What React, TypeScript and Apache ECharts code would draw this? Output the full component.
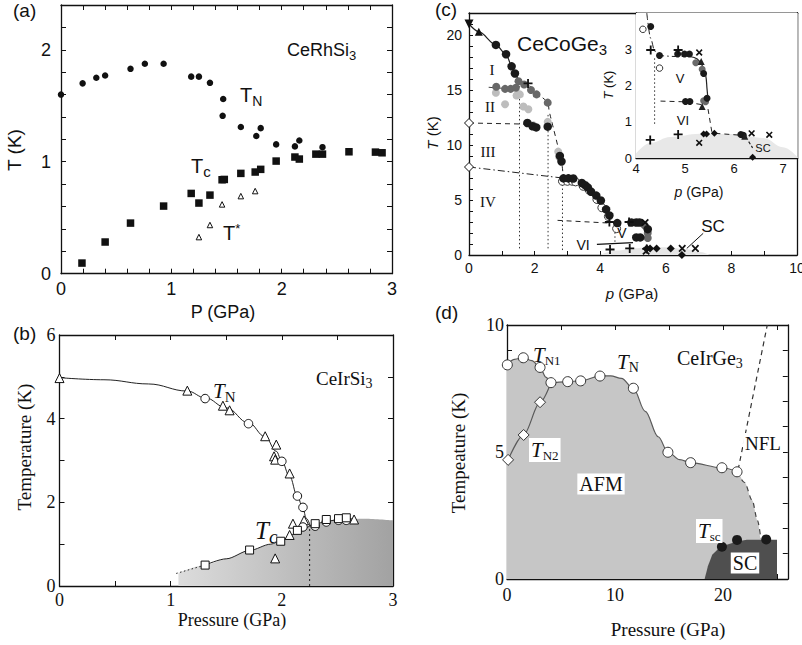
import React, { useEffect, useRef } from 'react';
import * as echarts from 'echarts';

const SANS = '"Liberation Sans", Arial, Helvetica, sans-serif';
const SERIF = '"Liberation Serif", "Times New Roman", serif';

// ---------- Panel (a) CeRhSi3 ----------
const aTN = [[0, 1.60], [0.196, 1.70], [0.32, 1.75], [0.40, 1.77], [0.63, 1.83], [0.76, 1.875], [0.93, 1.875], [1.18, 1.76], [1.25, 1.76], [1.35, 1.705], [1.47, 1.56], [1.465, 1.41], [1.63, 1.31], [1.77, 1.23], [1.81, 1.30], [1.95, 1.155], [2.12, 1.137], [2.16, 1.19], [2.37, 1.13]];
const aTc = [[0.19, 0.095], [0.40, 0.283], [0.63, 0.452], [0.93, 0.604], [1.18, 0.717], [1.25, 0.631], [1.35, 0.702], [1.46, 0.839], [1.48, 0.842], [1.63, 0.896], [1.76, 0.908], [1.81, 0.932], [1.95, 1.006], [2.12, 1.042], [2.16, 1.024], [2.31, 1.068], [2.37, 1.068], [2.61, 1.089], [2.85, 1.086], [2.91, 1.080]];
const aTstar = [[1.25, 0.327], [1.35, 0.435], [1.46, 0.619], [1.63, 0.693], [1.76, 0.738]];

// ---------- Panel (b) CeIrSi3 ----------
const bTNline = [[0, 4.98], [0.4, 4.93], [0.8, 4.83], [1.15, 4.66], [1.31, 4.5], [1.5, 4.26], [1.7, 3.9], [1.85, 3.57], [1.95, 3.22], [2.0, 2.98], [2.07, 2.62], [2.14, 2.15], [2.19, 1.85], [2.22, 1.62], [2.25, 1.48]];
const bTcline = [[1.31, 0.5], [1.5, 0.65], [1.71, 0.85], [1.9, 1.0], [2.0, 1.09], [2.1, 1.23], [2.2, 1.38], [2.3, 1.48], [2.4, 1.55], [2.55, 1.6], [2.65, 1.61]];
const bTcDotted = [[1.05, 0.3], [1.31, 0.5]];
const bSCedge = [[1.07, 0.31], [1.31, 0.5], [1.5, 0.65], [1.71, 0.85], [1.9, 1.0], [2.0, 1.09], [2.1, 1.23], [2.2, 1.38], [2.3, 1.48], [2.4, 1.55], [2.55, 1.6], [2.75, 1.61], [3.0, 1.57]];
const bQCP = [[2.25, 0], [2.25, 1.48]];
const bTri = [[0, 4.97], [1.15, 4.67], [1.47, 4.31], [1.53, 4.20], [1.85, 3.58], [1.95, 3.38], [1.93, 3.10], [1.94, 3.02], [2.07, 2.69], [2.07, 1.22], [2.10, 1.49], [2.20, 1.57], [1.94, 0.66], [2.65, 1.59]];
const bCirc = [[1.31, 4.48], [1.70, 3.88], [2.0, 2.98], [2.14, 2.15], [2.19, 1.88], [2.19, 1.41], [2.30, 1.43], [2.40, 1.53], [2.51, 1.57], [2.58, 1.57]];
const bSq = [[1.31, 0.50], [1.71, 0.86], [1.99, 1.07], [2.14, 1.33], [2.30, 1.49], [2.40, 1.59], [2.51, 1.61], [2.58, 1.63]];

// ---------- Panel (c) CeCoGe3 main ----------
const cBlack = [[0.82, 19.1], [1.13, 18.25], [1.30, 17.15], [1.40, 16.5], [1.78, 12.0], [1.94, 11.7], [2.05, 11.6], [2.40, 11.67], [2.77, 9.0], [2.82, 8.5], [2.88, 6.97], [3.03, 6.97], [3.18, 6.95], [3.44, 6.55], [3.54, 6.35], [3.62, 6.15], [3.72, 5.75], [3.88, 5.4], [4.02, 4.95], [4.18, 4.15], [4.28, 3.6], [4.52, 2.9], [4.95, 2.95], [5.1, 2.95], [5.2, 2.95], [5.1, 1.6], [5.22, 1.6], [5.45, 2.35]];
const cDark = [[0.83, 15.3], [1.10, 15.1], [1.27, 15.1], [1.43, 15.2], [1.51, 15.8], [1.68, 15.5], [1.89, 15.0], [2.06, 14.6], [2.40, 13.85], [5.35, 2.7], [5.45, 2.0], [5.45, 1.55]];
const cLight = [[0.82, 14.75], [1.10, 13.7], [1.45, 14.5], [1.55, 14.6], [1.66, 13.5], [1.81, 13.25], [1.96, 11.8], [2.40, 12.1], [2.72, 9.4], [2.75, 8.9]];
const cOpen = [[2.85, 6.7], [3.0, 6.7], [3.15, 6.7], [3.25, 6.65], [3.48, 6.25], [3.66, 5.9], [3.9, 5.05], [4.05, 4.3], [4.25, 3.5], [4.5, 2.4]];
const cDiam = [[5.42, 0.6], [5.52, 0.6], [5.72, 0.6], [6.15, 0.6], [6.49, 0]];
const cDiamOpen = [[0, 12], [0, 8]];
const cPlus = [[1.8, 15.6], [4.28, 3.0], [4.88, 3.0], [4.3, 0.5], [4.9, 0.6], [5.42, 0.55]];
const cCross = [[5.37, 2.95], [6.5, 0.6], [6.9, 0.6], [5.4, 0.35]];
const cTriUp = [[0.3, 20.3]];
const cTriDown = [[0, 21]];
const cSolid1 = [[0, 21], [0.3, 20.3], [0.82, 19.1], [1.13, 18.25], [1.3, 17.2], [1.42, 16.4], [1.55, 15.7], [1.8, 15.55]];
const cSolid2 = [[0.6, 15.25], [1.1, 15.15], [1.45, 15.25], [1.55, 15.3]];
const cDash1 = [[1.85, 15.4], [2.06, 14.7], [2.38, 13.9], [2.45, 13.0], [2.55, 11.8], [2.7, 10.0], [2.82, 8.5], [2.87, 7.2]];
const cDash2 = [[0, 12], [1.75, 11.9]];
const cDashDot = [[0, 8], [2.85, 7.0]];
const cDot1 = [[1.54, 0.6], [1.54, 14.5]];
const cDot2 = [[2.41, 0.6], [2.41, 12.9]];
const cDot3 = [[2.85, 0.45], [2.85, 6.8]];
const cDash3 = [[2.7, 3.15], [4.3, 2.9]];
const cDot4 = [[4.45, 1.2], [4.45, 2.8]];
const cVIline = [[3.9, 0.97], [5.0, 1.12]];
const cSCline = [[7.14, 1.97], [6.64, 0.6]];
const cDome = [[4.0, 0], [4.5, 0.4], [5.0, 0.6], [5.5, 0.7], [6.0, 0.7], [6.6, 0.55], [7.0, 0.3], [7.35, 0]];

// ---------- Panel (c) inset ----------
const iBlack = [[4.30, 3.63], [4.48, 2.83], [4.85, 2.87], [4.99, 2.87], [5.09, 2.87], [5.38, 2.33], [5.45, 1.65], [5.01, 1.56], [5.10, 1.56], [6.14, 0.65], [6.19, 0.63]];
const iGrey = [[5.22, 2.63], [5.35, 2.45], [5.38, 1.58], [5.42, 1.55]];
const iOpen = [[4.14, 3.55], [4.48, 2.48]];
const iPlus = [[4.30, 2.98], [4.86, 2.98], [4.29, 0.50], [4.86, 0.65]];
const iCross = [[5.29, 2.91], [5.29, 0.42], [6.36, 0.68], [6.72, 0.64]];
const iTri = [[5.33, 2.66], [5.35, 1.42], [6.22, 0.6]];
const iDiam = [[5.38, 0.66], [5.44, 0.66], [5.6, 0.68], [6.38, 0.02]];
const iDashDot = [[4.22, 4.0], [4.3, 3.3], [4.38, 2.95], [4.5, 2.82], [4.8, 2.8], [5.1, 2.8]];
const iSolid = [[5.1, 2.8], [5.25, 2.73], [5.35, 2.55], [5.42, 2.3], [5.45, 1.9], [5.47, 1.6]];
const iDot = [[4.38, 2.75], [4.38, 0.9]];
const iDash1 = [[4.5, 1.57], [5.0, 1.55], [5.35, 1.47]];
const iDash2 = [[5.47, 1.35], [5.55, 0.7]];
const iDash3 = [[5.62, 0.68], [6.22, 0.62]];
const iDash4 = [[6.3, 0.45], [6.38, 0.28]];
const iDome = [[4.0, 0.12], [4.3, 0.42], [4.7, 0.58], [5.3, 0.67], [6.0, 0.66], [6.6, 0.55], [7.0, 0.3], [7.3, 0.02]];

// ---------- Panel (d) CeIrGe3 ----------
const dTNpts = [[0.03, 8.43], [1.51, 8.71], [3.06, 8.33], [4.07, 7.73], [5.62, 7.77], [6.82, 7.80], [8.61, 7.99], [11.7, 7.51], [14.9, 4.99], [17.0, 4.58], [19.9, 4.38], [21.3, 4.22]];
const dTN2pts = [[0.1, 4.69], [1.54, 5.67], [3.06, 6.96]];
const dTscPts = [[19.9, 1.27], [21.3, 1.54], [24.0, 1.56]];
const dTNline = [[0, 8.43], [0.7, 8.65], [1.5, 8.71], [2.3, 8.6], [3.06, 8.33], [3.6, 7.95], [4.07, 7.73], [5.6, 7.77], [6.8, 7.80], [8.6, 7.99], [9.6, 8.0], [10.6, 7.9], [11.7, 7.5], [12.8, 6.6], [14.0, 5.6], [14.9, 5.0], [16.0, 4.7], [17.0, 4.58], [19.9, 4.38], [21.3, 4.22]];
const dTNdash = [[21.3, 4.22], [22.0, 3.8], [22.7, 3.1], [23.2, 2.3], [23.5, 1.6]];
const dAFM = [...dTNline, [22.0, 3.8], [22.7, 3.1], [23.2, 2.3], [23.5, 1.6], [23.6, 0]];
const dTN2line = [[0.1, 4.69], [1.54, 5.67], [3.06, 6.96], [4.07, 7.73]];
const dSC = [[18.3, 0], [18.6, 0.5], [19.0, 0.95], [19.6, 1.2], [20.2, 1.33], [21.3, 1.48], [22.2, 1.55], [25, 1.55], [25, 0]];
const dNFL = [[21.4, 4.3], [24.1, 10]];

const PLUS = 'path://M-1,-5L1,-5L1,-1L5,-1L5,1L1,1L1,5L-1,5L-1,1L-5,1L-5,-1L-1,-1Z';

function buildOption() {
  const xAxes: any[] = [];
  const yAxes: any[] = [];
  const series: any[] = [];

  const fmt = (major: number, hideAbove: number) => (v: number) => {
    const r = v / major;
    if (v > hideAbove + 1e-9) return '';
    return Math.abs(r - Math.round(r)) < 1e-6 ? String(Math.round(v * 1000) / 1000) : '';
  };
  const axis = (gi: number, c: any, pos: string, showLabel: boolean, tick: boolean) => ({
    type: 'value', gridIndex: gi, min: c.min, max: c.max, interval: c.step, position: pos,
    axisLine: { show: true, onZero: false, lineStyle: { color: '#111', width: 1.3 } },
    axisTick: { show: tick, inside: true, length: c.tick || 5, lineStyle: { color: '#111', width: 1 } },
    splitLine: { show: false },
    axisLabel: {
      show: showLabel, margin: c.margin, color: '#111', fontFamily: c.font, fontSize: c.size,
      formatter: fmt(c.major, c.hideAbove ?? 1e9), hideOverlap: false,
    },
  });
  const mk = (gi: number, xc: any, yc: any, mirror: boolean) => {
    const xi = xAxes.length; const yi = yAxes.length;
    xAxes.push(axis(gi, xc, 'bottom', true, true));
    yAxes.push(axis(gi, yc, 'left', true, true));
    xAxes.push(axis(gi, xc, 'top', false, mirror));
    yAxes.push(axis(gi, yc, 'right', false, mirror));
    return { xi, yi };
  };

  const grids = [
    { left: 61, top: 5, width: 331, height: 268.7 },
    { left: 59.5, top: 335, width: 333.5, height: 251 },
    { left: 469, top: 13, width: 328, height: 242 },
    { left: 636, top: 13, width: 161.7, height: 145, show: true, backgroundColor: '#fff', borderColor: 'transparent', z: 5 },
    { left: 507, top: 325, width: 280.8, height: 254 },
  ].map((g: any) => ({ ...g, containLabel: false, outerBoundsMode: 'none' }));

  const A = mk(0, { min: 0, max: 3, step: 0.2, major: 1, font: SANS, size: 18, margin: 6 }, { min: 0, max: 2.4, step: 0.2, major: 1, font: SANS, size: 18, margin: 10 }, true);
  const B = mk(1, { min: 0, max: 3, step: 0.5, major: 1, font: SERIF, size: 18, margin: 5 }, { min: 0, max: 6, step: 1, major: 2, font: SERIF, size: 18, margin: 4 }, true);
  const C = mk(2, { min: 0, max: 10, step: 1, major: 2, font: SANS, size: 14, margin: 6, tick: 4 }, { min: 0, max: 22, step: 1, major: 5, font: SANS, size: 14, margin: 7, tick: 4 }, false);
  const CI = mk(3, { min: 4, max: 7.3, step: 0.5, major: 1, font: SANS, size: 13, margin: 4, tick: 3 }, { min: 0, max: 4, step: 0.5, major: 1, font: SANS, size: 13, margin: 4, tick: 3, hideAbove: 3.5 }, false);
  const D = mk(4, { min: 0, max: 26, step: 5, major: 10, font: SERIF, size: 18, margin: 7 }, { min: 0, max: 10, step: 1, major: 5, font: SERIF, size: 18, margin: 3 }, true);

  const sc = (ax: any, data: any[], symbol: string, size: number, fill: string, stroke?: string, extra: any = {}) => ({
    type: 'scatter', xAxisIndex: ax.xi, yAxisIndex: ax.yi, data, symbol, symbolSize: size, silent: true, z: 6,
    itemStyle: { color: fill, borderColor: stroke || fill, borderWidth: stroke ? 1 : 0, opacity: 1 }, ...extra,
  });
  const ln = (ax: any, data: any[], color: string, width: number, type: any, smooth: any = false, extra: any = {}) => ({
    type: 'line', xAxisIndex: ax.xi, yAxisIndex: ax.yi, data, symbol: 'none', showSymbol: false, smooth, smoothMonotone: 'x',
    lineStyle: { color, width, type }, silent: true, z: 4, ...extra,
  });
  const area = (ax: any, data: any[], color: any, smooth: any = false, z = 2) => ({
    type: 'line', xAxisIndex: ax.xi, yAxisIndex: ax.yi, data, symbol: 'none', showSymbol: false, smooth, smoothMonotone: 'x',
    lineStyle: { width: 0, opacity: 0 }, areaStyle: { color, opacity: 1 }, silent: true, z,
  });
  const DASH = [5, 4];
  const DOT = [1.5, 2.5];
  const DASHDOT = [7, 3, 1.5, 3];

  // (a)
  series.push(sc(A, aTN, 'circle', 6.5, '#111'));
  series.push(sc(A, aTc, 'rect', 7.5, '#111'));
  series.push(sc(A, aTstar, 'triangle', 5.5, '#fff', '#111'));

  // (b)
  series.push(area(B, bSCedge, new echarts.graphic.LinearGradient(0, 0, 1, 0, [{ offset: 0, color: '#dcdcdc' }, { offset: 1, color: '#a2a2a2' }]), 0.3, 1));
  series.push(ln(B, bTNline, '#222', 1, 'solid', 0.4));
  series.push(ln(B, bTcline, '#222', 1, 'solid', 0.3));
  series.push(ln(B, bTcDotted, '#222', 1, DOT));
  series.push(ln(B, bQCP, '#222', 1, [2, 3]));
  series.push(sc(B, bTri, 'triangle', 9, '#fff', '#111'));
  series.push(sc(B, bCirc, 'circle', 8.5, '#fff', '#111'));
  series.push(sc(B, bSq, 'rect', 8, '#fff', '#111'));

  // (c) main
  series.push(area(C, cDome, '#e6e6e6', 0.4, 1));
  series.push(ln(C, cSolid1, '#222', 1.2, 'solid', 0.3));
  series.push(ln(C, cSolid2, '#444', 1.2, 'solid', 0.3));
  series.push(ln(C, cDash1, '#222', 1, DASH, 0.4, { smoothMonotone: null }));
  series.push(ln(C, cDash2, '#222', 1, DASH));
  series.push(ln(C, cDashDot, '#222', 1, DASHDOT));
  series.push(ln(C, cDot1, '#333', 1, DOT));
  series.push(ln(C, cDot2, '#333', 1, DOT));
  series.push(ln(C, cDot3, '#333', 1, DOT));
  series.push(ln(C, cDash3, '#222', 1, DASH));
  series.push(ln(C, cDot4, '#333', 1, DOT));
  series.push(ln(C, cVIline, '#111', 1.3, 'solid'));
  series.push(ln(C, cSCline, '#111', 1, 'solid'));
  series.push(sc(C, cLight, 'circle', 8, '#bdbdbd'));
  series.push(sc(C, cOpen, 'circle', 8, '#fff', '#333'));
  series.push(sc(C, cDark, 'circle', 8, '#686868'));
  series.push(sc(C, cBlack, 'circle', 8.5, '#1a1a1a'));
  series.push(sc(C, cDiam, 'diamond', 8, '#111'));
  series.push(sc(C, cDiamOpen, 'diamond', 9, '#fff', '#111'));
  series.push(sc(C, cPlus, PLUS, 9, '#111'));
  series.push(sc(C, cCross, PLUS, 9, '#111', undefined, { symbolRotate: 45 }));
  series.push(sc(C, cTriUp, 'triangle', 8, '#111'));
  series.push(sc(C, cTriDown, 'triangle', 9, '#111', undefined, { symbolRotate: 180 }));

  // (c) inset
  series.push(area(CI, iDome, '#e8e8e8', 0.4, 6));
  series.push(ln(CI, iDashDot, '#222', 1, DASHDOT, 0.3, { z: 7 }));
  series.push(ln(CI, iSolid, '#222', 1.2, 'solid', 0.4, { z: 7, smoothMonotone: null }));
  series.push(ln(CI, iDot, '#333', 1, DOT, false, { z: 7 }));
  series.push(ln(CI, iDash1, '#222', 1, DASH, false, { z: 7 }));
  series.push(ln(CI, iDash2, '#222', 1, DASH, false, { z: 7 }));
  series.push(ln(CI, iDash3, '#222', 1, DASH, false, { z: 7 }));
  series.push(ln(CI, iDash4, '#222', 1.2, [3, 2], false, { z: 7 }));
  series.push(sc(CI, iOpen, 'circle', 6.5, '#fff', '#333', { z: 8 }));
  series.push(sc(CI, iGrey, 'circle', 7, '#6a6a6a', undefined, { z: 8 }));
  series.push(sc(CI, iBlack, 'circle', 7, '#1a1a1a', undefined, { z: 8 }));
  series.push(sc(CI, iTri, 'triangle', 7, '#222', undefined, { z: 8 }));
  series.push(sc(CI, iDiam, 'diamond', 7, '#111', undefined, { z: 8 }));
  series.push(sc(CI, iPlus, PLUS, 9, '#111', undefined, { z: 8 }));
  series.push(sc(CI, iCross, PLUS, 8, '#111', undefined, { z: 8, symbolRotate: 45 }));

  // (d)
  series.push(area(D, dAFM, '#c6c6c6', 0.35, 1));
  series.push(area(D, dSC, '#4f4f4f', false, 2));
  series.push(ln(D, dTNline, '#5a5a5a', 1.2, 'solid', 0.35));
  series.push(ln(D, dTNdash, '#444', 1.2, DASH, 0.3));
  series.push(ln(D, dTN2line, '#5a5a5a', 1.2, 'solid', 0.3));
  series.push(ln(D, dNFL, '#333', 1.2, DASH));
  series.push(sc(D, dTNpts, 'circle', 10, '#fff', '#333'));
  series.push(sc(D, dTN2pts, 'diamond', 11, '#fff', '#333'));
  series.push(sc(D, dTscPts, 'circle', 10, '#1a1a1a'));

  // ---------- texts ----------
  const tok = (f: string, s: number, o: any = {}) => ({ fontFamily: f, fontSize: s, fill: '#111', fontStyle: o.italic ? 'italic' : 'normal', padding: o.pad || [0, 0, 0, 0] });
  const T = (x: number, y: number, text: string, family: string, size: number, o: any = {}) => ({
    type: 'text', x, y, rotation: o.rot || 0, z: 100, silent: true,
    style: {
      text, fontFamily: family, fontSize: size, fill: '#111', fontStyle: o.italic ? 'italic' : 'normal',
      align: o.align || 'left', verticalAlign: 'middle', rich: o.rich,
      backgroundColor: o.bg, padding: o.padBox,
    },
  });
  const R = Math.PI / 2;
  const texts: any[] = [
    // (a)
    T(13, 10, '(a)', SANS, 19),
    T(287, 50, 'CeRhSi{s|3}', SANS, 18, { rich: { s: tok(SANS, 13, { pad: [10, 0, 0, 0] }) } }),
    T(240, 95, 'T{s|N}', SANS, 20, { rich: { s: tok(SANS, 14, { pad: [11, 0, 0, 0] }) } }),
    T(191, 166, 'T{s|c}', SANS, 20, { rich: { s: tok(SANS, 15, { pad: [11, 0, 0, 0] }) } }),
    T(223, 233, 'T{p|*}', SANS, 20, { rich: { p: tok(SANS, 13, { pad: [0, 0, 10, 0] }) } }),
    T(14, 150, 'T (K)', SANS, 19, { rot: R, align: 'center' }),
    T(223, 312, 'P (GPa)', SANS, 18, { align: 'center' }),
    // (b)
    T(13, 333, '(b)', SANS, 19),
    T(316, 378, 'CeIrSi{s|3}', SERIF, 19, { rich: { s: tok(SERIF, 14, { pad: [10, 0, 0, 0] }) } }),
    T(213, 391, '{i|T}{s|N}', SERIF, 20, { rich: { i: tok(SERIF, 21, { italic: true }), s: tok(SERIF, 15, { pad: [11, 0, 0, 0] }) } }),
    T(255, 530, '{i|T}{s|c}', SERIF, 24, { rich: { i: tok(SERIF, 25, { italic: true }), s: tok(SERIF, 19, { italic: true, pad: [12, 0, 0, 0] }) } }),
    T(24, 447, 'Temperature (K)', SERIF, 19, { rot: R, align: 'center' }),
    T(232, 620, 'Pressure (GPa)', SERIF, 18, { align: 'center' }),
    // (c)
    T(435, 9, '(c)', SANS, 19),
    T(517, 43, 'CeCoGe{s|3}', SANS, 21, { rich: { s: tok(SANS, 15, { pad: [12, 0, 0, 0] }) } }),
    T(492, 70, 'I', SERIF, 15, { align: 'center' }),
    T(490, 107, 'II', SERIF, 15, { align: 'center' }),
    T(488, 152, 'III', SERIF, 15, { align: 'center' }),
    T(488, 202, 'IV', SERIF, 15, { align: 'center' }),
    T(622, 233, 'V', SANS, 14, { align: 'center' }),
    T(583, 245, 'VI', SANS, 14, { align: 'center' }),
    T(713, 226, 'SC', SANS, 17, { align: 'center' }),
    T(432, 133, '{i|T} (K)', SANS, 15, { rot: R, align: 'center', rich: { i: tok(SANS, 15, { italic: true }) } }),
    T(632, 293, '{i|p} (GPa)', SANS, 15, { align: 'center', rich: { i: tok(SANS, 15, { italic: true }) } }),
    T(608, 85, '{i|T} (K)', SANS, 13, { rot: R, align: 'center', rich: { i: tok(SANS, 13, { italic: true }) } }),
    T(699, 192, '{i|p} (GPa)', SANS, 14, { align: 'center', rich: { i: tok(SANS, 14, { italic: true }) } }),
    T(680, 78, 'V', SANS, 13, { align: 'center' }),
    T(683, 120, 'VI', SANS, 13, { align: 'center' }),
    T(763, 148, 'SC', SANS, 11, { align: 'center' }),
    // (d)
    T(435, 312, '(d)', SANS, 19),
    T(533, 355, '{i|T}{s|N1}', SERIF, 20, { rich: { i: tok(SERIF, 21, { italic: true }), s: tok(SERIF, 13, { pad: [11, 0, 0, 0] }) } }),
    T(617, 362, '{i|T}{s|N}', SERIF, 20, { rich: { i: tok(SERIF, 21, { italic: true }), s: tok(SERIF, 14, { pad: [11, 0, 0, 0] }) } }),
    T(677, 358, 'CeIrGe{s|3}', SERIF, 20, { rich: { s: tok(SERIF, 14, { pad: [10, 0, 0, 0] }) } }),
    T(529, 450, '{i|T}{s|N2}', SERIF, 20, { bg: '#fff', padBox: [0, 2, 0, 2], rich: { i: tok(SERIF, 21, { italic: true }), s: tok(SERIF, 13, { pad: [11, 0, 0, 0] }) } }),
    T(763, 443, 'NFL', SERIF, 19, { align: 'center', bg: '#fff', padBox: [1, 2, 0, 2] }),
    T(601, 484, 'AFM', SERIF, 20, { align: 'center', bg: '#fff', padBox: [1, 2, 0, 2] }),
    T(696, 531, '{i|T}{s|sc}', SERIF, 20, { bg: '#fff', padBox: [0, 2, 0, 2], rich: { i: tok(SERIF, 21, { italic: true }), s: tok(SERIF, 13, { pad: [11, 0, 0, 0] }) } }),
    T(745, 563, 'SC', SERIF, 20, { align: 'center', bg: '#fff', padBox: [1, 2, 0, 2] }),
    T(458, 453, 'Tempeature (K)', SERIF, 19, { rot: R, align: 'center' }),
    T(668, 629, 'Pressure (GPa)', SERIF, 19, { align: 'center' }),
  ];

  return {
    animation: false,
    backgroundColor: '#fff',
    grid: grids,
    xAxis: xAxes,
    yAxis: yAxes,
    series,
    graphic: { elements: texts },
  };
}

export default function App() {
  const ref = useRef<HTMLDivElement>(null);
  useEffect(() => {
    const chart = echarts.init(ref.current as HTMLDivElement, null, { renderer: 'svg' });
    chart.setOption(buildOption() as any);
    return () => chart.dispose();
  }, []);
  return <div ref={ref} style={{ position: 'absolute', left: 0, top: 0, width: 802, height: 645, background: '#fff' }} />;
}
